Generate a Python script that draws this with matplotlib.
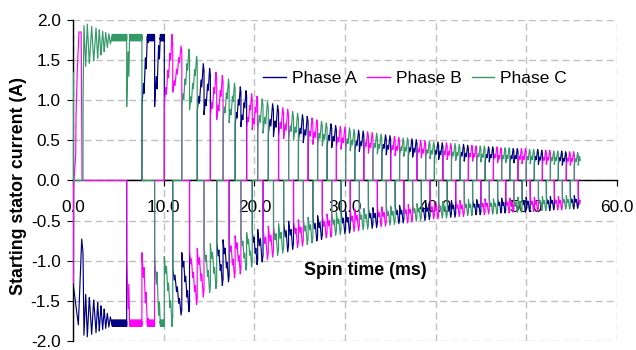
import numpy as np
import matplotlib
matplotlib.use("Agg")
import matplotlib.pyplot as plt
from matplotlib.lines import Line2D
from matplotlib.ticker import FormatStrFormatter

plt.rcParams['font.family'] = ['Liberation Sans', 'DejaVu Sans']

phase_names = ["Phase A", "Phase B", "Phase C"]
phase_colors = ["#000080", "#FF00FF", "#339966"]

# 6-step commutation order: (phase driven positive, phase driven negative)
commutation_order = [(1, 0), (2, 0), (2, 1), (0, 1), (0, 2), (1, 2)]

# start-up transient (0 - 1.1 ms)
a_start_t = [0.00, 0.00, 0.02, 0.04, 0.59, 0.96, 1.10]
a_start_v = [0.00, 0.67, 0.00, -1.31, -1.80, -0.73, -0.90]
b_start_t = [0.00, 0.00, 0.04, 0.08, 0.10, 0.30, 0.33, 0.48, 0.66, 0.90, 1.00, 1.10]
b_start_v = [0.00, -0.25, -1.28, 0.00, 0.00, 0.32, 0.78, 1.40, 1.85, 1.85, 0.00, 0.00]
c_start_t = [0.00, 0.00, 0.03, 1.10]
c_start_v = [0.00, 1.35, 0.00, 0.00]

# step 1 (1.1 - 5.92 ms, C+ / A-): ringing magnitude, then current limit
ring_t = [1.10, 1.20, 1.40, 1.58, 1.80, 2.06, 2.28, 2.54, 2.72, 2.90, 3.08,
          3.27, 3.44, 3.60, 3.78, 3.95, 4.12, 4.30]
ring_v = [0.90, 1.95, 1.42, 1.95, 1.45, 1.92, 1.48, 1.90, 1.52, 1.88, 1.56,
          1.86, 1.60, 1.85, 1.65, 1.83, 1.70, 1.80]

# commutation instants (ms) from 5.92 ms on
commutation_ms = [5.92, 7.60, 9.00, 10.07, 11.00, 12.00, 12.85, 13.70, 14.45, 15.15,
                  15.85, 16.55, 17.22, 17.88, 18.52, 19.15, 19.77, 20.37, 20.96, 21.54,
                  22.11, 22.67, 23.23, 23.78, 24.32, 24.86, 25.40, 25.93, 26.46, 26.98,
                  27.50, 28.02, 28.54, 29.05, 29.56, 30.07, 30.58, 31.08, 31.58, 32.08,
                  32.58, 33.08, 33.57, 34.06, 34.55, 35.04, 35.53, 36.02, 36.50, 36.98,
                  37.46, 37.94, 38.42, 38.90, 39.38, 39.86, 40.33, 40.80, 41.27, 41.74,
                  42.21, 42.68, 43.15, 43.61, 44.07, 44.53, 44.99, 45.45, 45.91, 46.37,
                  46.83, 47.28, 47.73, 48.18, 48.63, 49.08, 49.53, 49.98, 50.43, 50.88,
                  51.33, 51.77, 52.21, 52.65, 53.09, 53.53, 53.97, 54.41, 54.85, 55.29,
                  55.73, 55.95]
# current magnitude at the start of each commutation step (A)
step_low = [0.92, 0.90, 0.92, 0.95, 1.10, 0.90, 0.88, 0.85, 0.82, 0.79,
            0.76, 0.74, 0.72, 0.69, 0.67, 0.65, 0.63, 0.61, 0.59, 0.57,
            0.55, 0.54, 0.52, 0.51, 0.50, 0.49, 0.47, 0.46, 0.45, 0.44,
            0.43, 0.42, 0.41, 0.40, 0.39, 0.38, 0.37, 0.36, 0.36, 0.35,
            0.34, 0.34, 0.33, 0.33, 0.32, 0.32, 0.31, 0.31, 0.30, 0.30,
            0.29, 0.29, 0.28, 0.28, 0.27, 0.27, 0.26, 0.26, 0.26, 0.25,
            0.25, 0.25, 0.24, 0.24, 0.24, 0.24, 0.23, 0.23, 0.23, 0.23,
            0.22, 0.22, 0.22, 0.22, 0.22, 0.21, 0.21, 0.21, 0.21, 0.21,
            0.20, 0.20, 0.20, 0.20, 0.20, 0.20, 0.19, 0.19, 0.19, 0.19,
            0.19]
# current magnitude reached at the end of each step (A, before current limit)
step_peak = [5.70, 2.80, 2.45, 1.80, 1.68, 1.64, 1.55, 1.46, 1.40, 1.35,
             1.31, 1.27, 1.22, 1.17, 1.12, 1.08, 1.05, 1.02, 0.99, 0.96,
             0.94, 0.91, 0.89, 0.86, 0.84, 0.82, 0.80, 0.78, 0.76, 0.74,
             0.72, 0.71, 0.69, 0.68, 0.67, 0.66, 0.64, 0.63, 0.62, 0.61,
             0.60, 0.59, 0.58, 0.57, 0.56, 0.55, 0.54, 0.53, 0.53, 0.52,
             0.51, 0.50, 0.50, 0.49, 0.48, 0.48, 0.47, 0.47, 0.46, 0.46,
             0.45, 0.45, 0.44, 0.44, 0.43, 0.43, 0.43, 0.42, 0.42, 0.42,
             0.41, 0.41, 0.41, 0.40, 0.40, 0.40, 0.40, 0.39, 0.39, 0.39,
             0.38, 0.38, 0.38, 0.37, 0.37, 0.37, 0.36, 0.36, 0.36, 0.35,
             0.30]

current_limit = 1.78

x_ticks = [0, 10, 20, 30, 40, 50, 60]
y_ticks = [-2.0, -1.5, -1.0, -0.5, 0.0, 0.5, 1.0, 1.5, 2.0]

# waveform shaping (PWM teeth)
PWM_MS = 0.24
RISE_FRAC = 0.65
TOOTH_DROP = 0.45
BAND = 0.04
BAND_PATTERN = np.array([1.0, -0.4, 0.5, -1.0, 0.2, -0.6])
DT = 0.012


def band_clip(tg, m):
    pat = BAND_PATTERN[np.arange(len(tg)) % len(BAND_PATTERN)]
    rip = current_limit + BAND * pat
    out = m.copy()
    over = m >= current_limit
    out[over] = rip[over]
    return out


def ramp_step(t0, t1, low, peak):
    d = t1 - t0
    n = max(1, int(round(d / PWM_MS)))
    dt = d / n
    drop = TOOTH_DROP * (peak - low) / n
    vt, vv = [t0], [low]
    for j in range(n):
        ta = t0 + j * dt
        top = low + (peak - low) * (j + 1) / n
        vt += [ta + RISE_FRAC * dt, ta + dt]
        vv += [top, top - drop]
    tg = np.linspace(t0, t1, max(3, int(np.ceil(d / DT)) + 1))
    m = np.interp(tg, vt, vv)
    return tg, band_clip(tg, m)


phase_t = [[np.array(a_start_t)], [np.array(b_start_t)], [np.array(c_start_t)]]
phase_v = [[np.array(a_start_v)], [np.array(b_start_v)], [np.array(c_start_v)]]


def add_step(k, t0, t1, tg, m):
    pos, neg = commutation_order[k % 6]
    for p in range(3):
        if p == pos:
            phase_t[p].append(tg); phase_v[p].append(m)
        elif p == neg:
            phase_t[p].append(tg); phase_v[p].append(-m)
        else:
            phase_t[p].append(np.array([t0, t1])); phase_v[p].append(np.zeros(2))


# step 1: ringing then current limit band
t0, t1 = ring_t[0], commutation_ms[0]
tg = np.linspace(t0, t1, int(np.ceil((t1 - t0) / DT)) + 1)
m = np.interp(tg, ring_t, ring_v)
after = tg > ring_t[-1]
m[after] = current_limit + 0.5
m = np.where(after, band_clip(tg, m), m)
add_step(1, t0, t1, tg, m)

for i in range(len(commutation_ms) - 1):
    t0, t1 = commutation_ms[i], commutation_ms[i + 1]
    tg, m = ramp_step(t0, t1, step_low[i], step_peak[i])
    add_step(2 + i, t0, t1, tg, m)

fig = plt.figure(figsize=(6.36, 3.5), dpi=100)
ax = fig.add_axes([0.1148, 0.026, 0.8553, 0.917])
ax.set_axisbelow(True)

for p in range(3):
    ax.plot(np.concatenate(phase_t[p]), np.concatenate(phase_v[p]),
            color=phase_colors[p], lw=0.85, zorder=2 + p)

ax.set_xlim(0, 60)
ax.set_ylim(-2, 2)
ax.set_xticks(x_ticks)
ax.set_yticks(y_ticks)
ax.xaxis.set_major_formatter(FormatStrFormatter('%.1f'))
ax.yaxis.set_major_formatter(FormatStrFormatter('%.1f'))
ax.grid(True, color='#c0c0c0', linestyle=(0, (5, 3)), linewidth=1)

for s in ['top', 'right']:
    ax.spines[s].set_visible(False)
ax.spines['bottom'].set_position(('data', 0))
ax.spines['bottom'].set_color('#000000')
ax.spines['bottom'].set_linewidth(1)
ax.spines['left'].set_color('#000000')
ax.spines['left'].set_linewidth(1)

ax.tick_params(axis='x', direction='out', length=4, pad=10, labelsize=12.4)
ax.tick_params(axis='y', direction='out', length=4, pad=5, labelsize=12.4)

ax.text(32.2, -1.125, 'Spin time (ms)', ha='center', va='center',
        fontsize=12.8, fontweight='bold')
fig.text(19 / 636, 1 - 186 / 350, 'Starting stator current (A)', rotation=90,
         ha='center', va='center', fontsize=12.8, fontweight='bold')

handles = [Line2D([0], [0], color=c, lw=1) for c in phase_colors]
ax.legend(handles, phase_names, loc='center', bbox_to_anchor=(0.629, 0.817),
          ncol=3, frameon=False, fontsize=12.5, handlelength=1.3,
          handletextpad=0.35, columnspacing=0.6)

fig.savefig('out.png', dpi=100)
